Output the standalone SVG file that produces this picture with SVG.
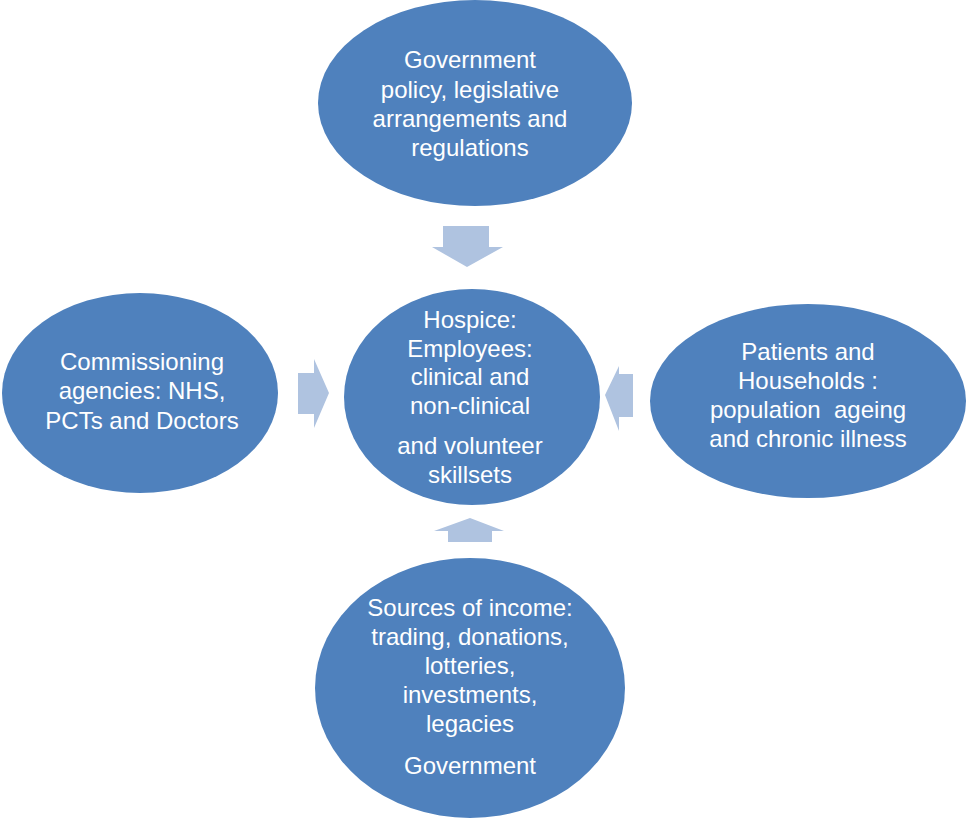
<svg xmlns="http://www.w3.org/2000/svg" width="967" height="819" viewBox="0 0 967 819">
<style>
.node ellipse{fill:#4F81BD;}
.node text{fill:#FFFFFF;font-family:"Liberation Sans","Open Sans",sans-serif;font-size:24px;text-anchor:middle;}
.arrow{fill:#AFC3E0;}
</style>
<rect width="967" height="819" fill="#FFFFFF"/>
<g id="connectors">
<polygon class="arrow" points="443,226 489,226 489,247 503,247 467,267 432,247 443,247"/>
<polygon class="arrow" points="298,373 314,373 314,359 329,393 314,428 314,414 298,414"/>
<polygon class="arrow" points="633,374 619,374 619,366 605,395 619,431 619,417 633,417"/>
<polygon class="arrow" points="448,542 492,542 492,531 504,531 470,518 434,531 448,531"/>
</g>
<g id="node-government" class="node">
<ellipse cx="475" cy="103" rx="157" ry="103"/>
<text x="470" y="68">Government</text>
<text x="470" y="98">policy, legislative</text>
<text x="470" y="127">arrangements and</text>
<text x="470" y="156">regulations</text>
</g>
<g id="node-hospice" class="node">
<ellipse cx="472" cy="397" rx="128" ry="108"/>
<text x="470" y="328">Hospice:</text>
<text x="470" y="357">Employees:</text>
<text x="470" y="385">clinical and</text>
<text x="470" y="414">non-clinical</text>
<text x="470" y="454">and volunteer</text>
<text x="470" y="483">skillsets</text>
</g>
<g id="node-commissioning" class="node">
<ellipse cx="140" cy="393" rx="138" ry="100"/>
<text x="142" y="370">Commissioning</text>
<text x="142" y="399">agencies: NHS,</text>
<text x="142" y="429">PCTs and Doctors</text>
</g>
<g id="node-patients" class="node">
<ellipse cx="808" cy="401" rx="158" ry="97"/>
<text x="808" y="360">Patients and</text>
<text x="808" y="389">Households :</text>
<text x="808" y="418" xml:space="preserve">population  ageing</text>
<text x="808" y="447">and chronic illness</text>
</g>
<g id="node-income" class="node">
<ellipse cx="470" cy="688" rx="155" ry="130"/>
<text x="470" y="616">Sources of income:</text>
<text x="470" y="645">trading, donations,</text>
<text x="470" y="674">lotteries,</text>
<text x="470" y="703">investments,</text>
<text x="470" y="732">legacies</text>
<text x="470" y="774">Government</text>
</g>
</svg>
